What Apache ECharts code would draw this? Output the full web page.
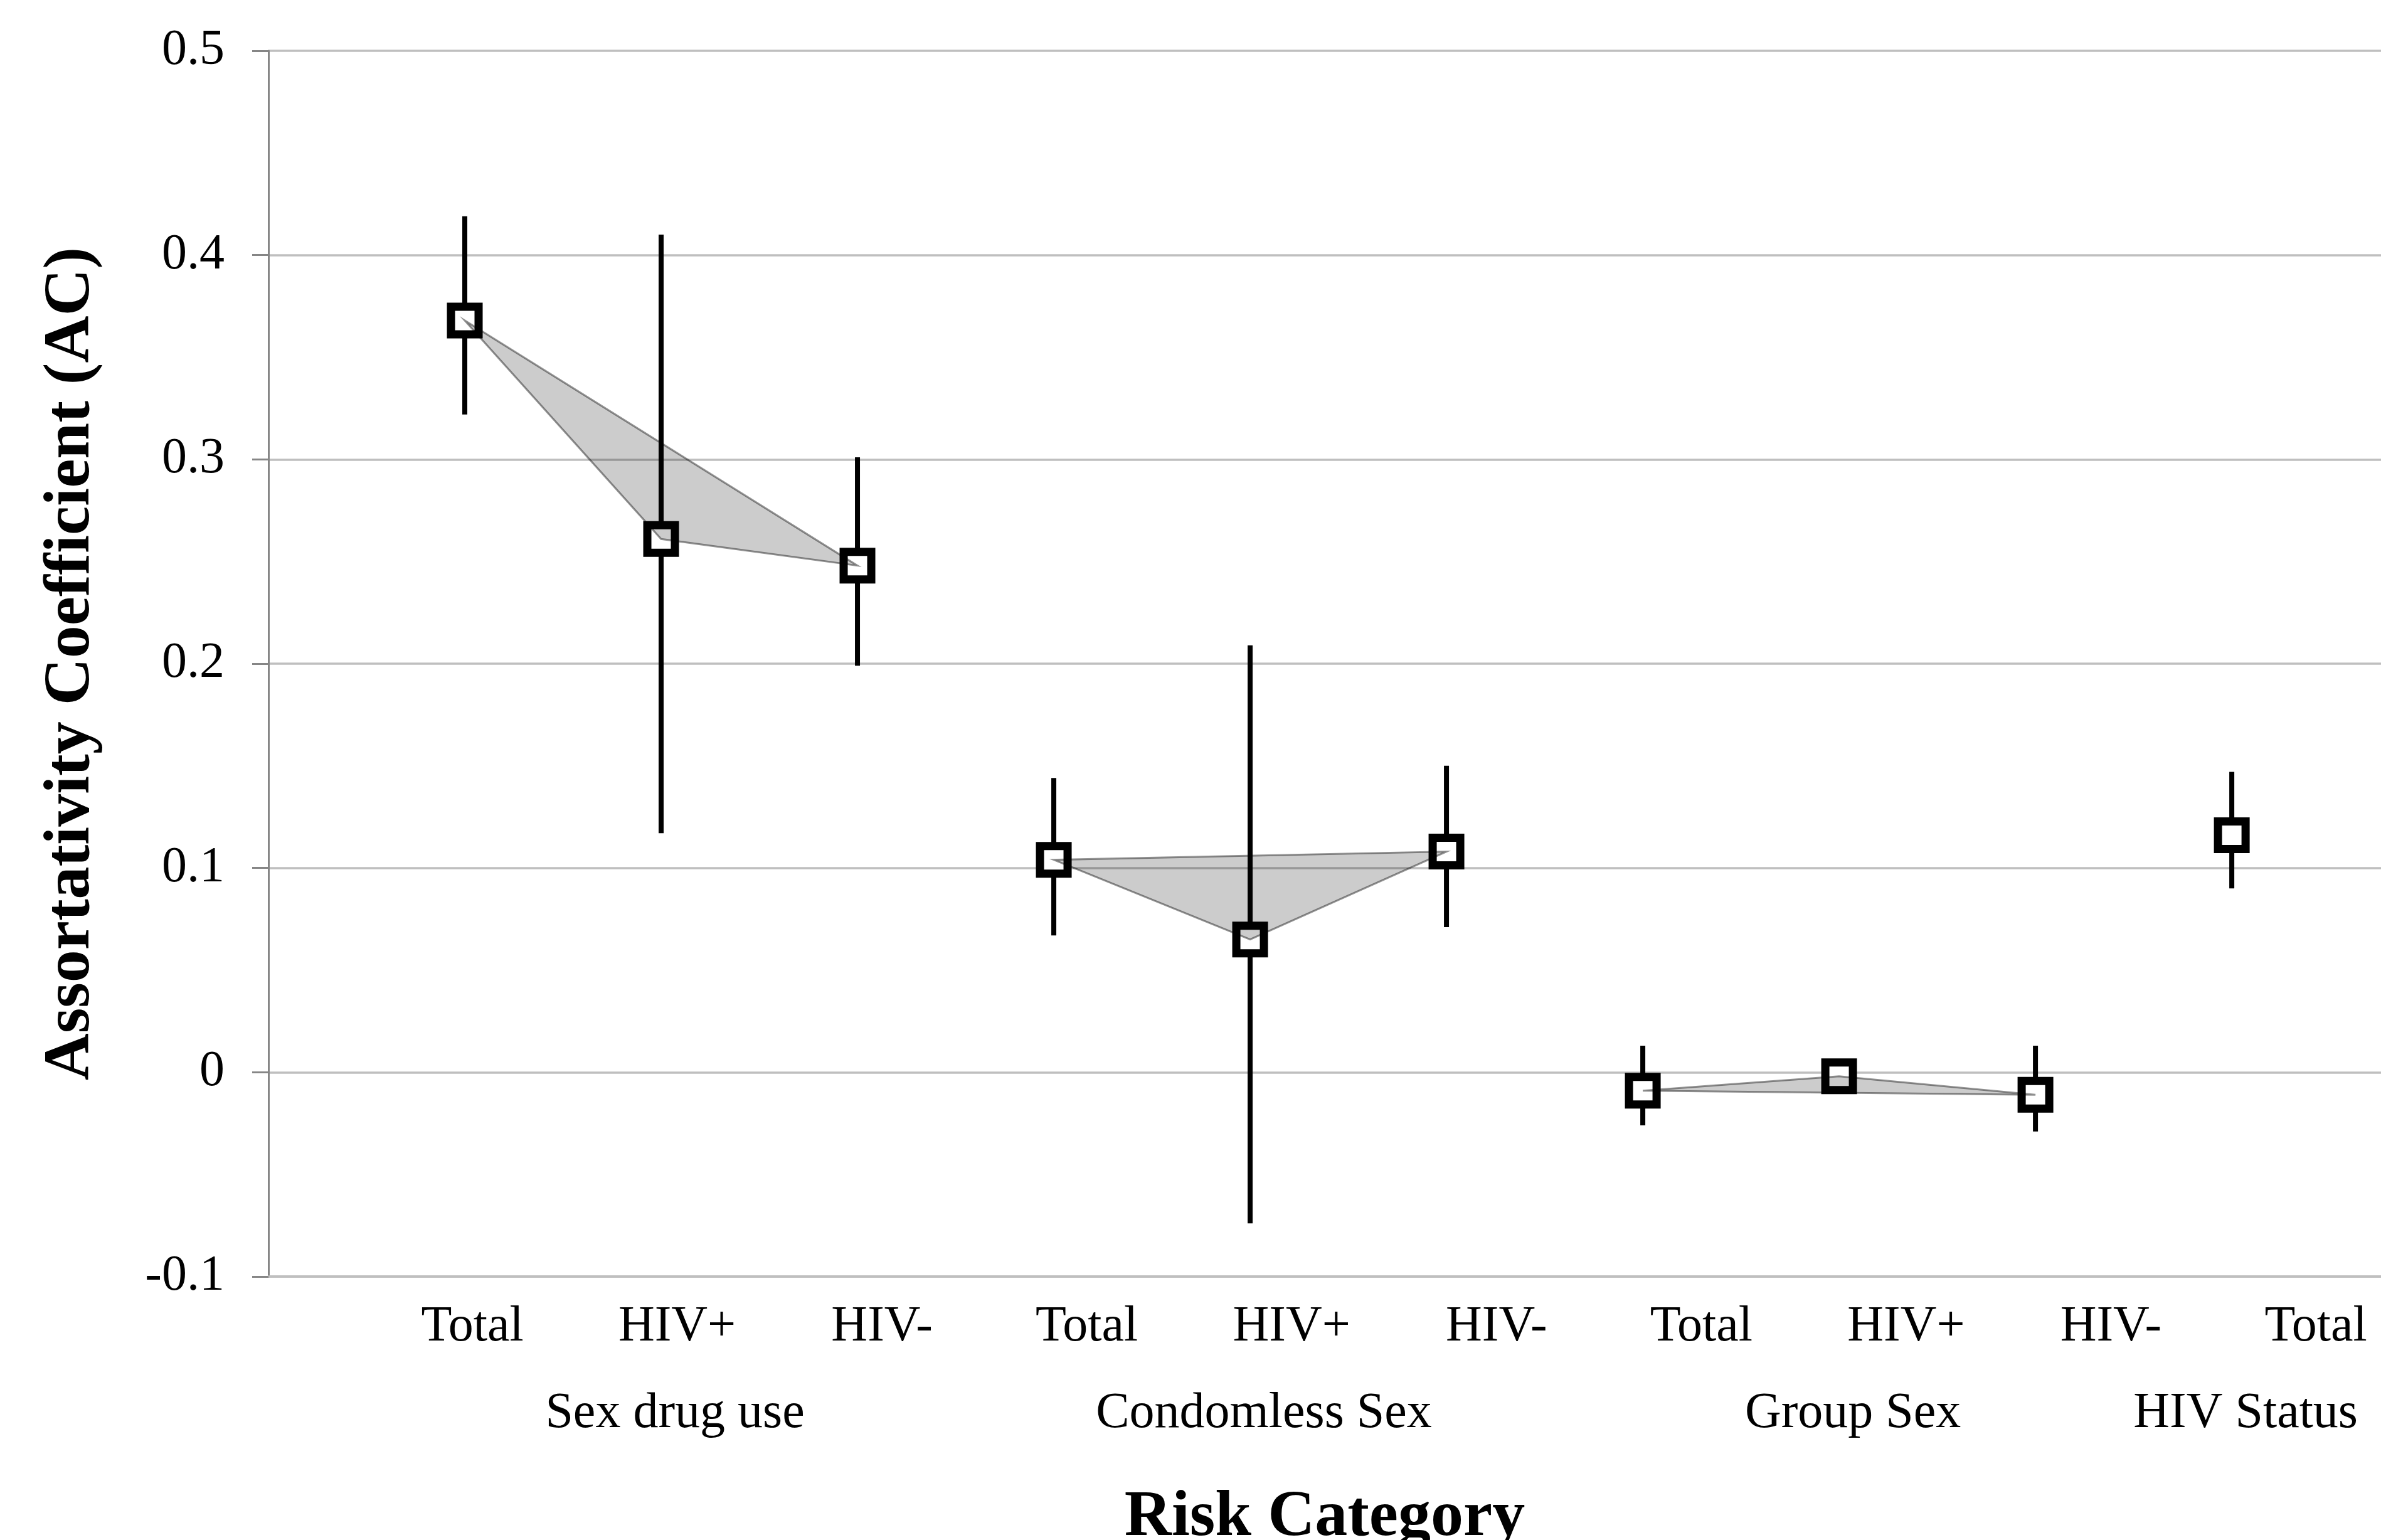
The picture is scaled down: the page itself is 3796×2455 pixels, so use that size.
<!DOCTYPE html>
<html>
<head>
<meta charset="utf-8">
<script src="https://cdn.jsdelivr.net/npm/echarts@6.0.0/dist/echarts.min.js"></script>
<style>
html,body{margin:0;padding:0;background:#fff;}
#chart{width:3796px;height:2455px;}
</style>
</head>
<body>
<div id="chart"></div>
<script>
// ---- data ----
const categories = ['Total','HIV+','HIV-','Total','HIV+','HIV-','Total','HIV+','HIV-','Total'];
const groupNames = ['Sex drug use','Condomless Sex','Group Sex','HIV Status'];
const groupOf    = [0,0,0,1,1,1,2,2,2,3];
const acValues   = [0.368, 0.261, 0.248, 0.104, 0.065, 0.108, -0.009, -0.002, -0.011, 0.116];
const ciLower    = [0.322, 0.117, 0.199, 0.067, -0.074, 0.071, -0.026, -0.006, -0.029, 0.090];
const ciUpper    = [0.419, 0.410, 0.301, 0.144, 0.209, 0.150, 0.013, 0.002, 0.013, 0.147];
const yMin = -0.1, yMax = 0.5, yStep = 0.1;
const xMax = 10.76;

// ---- derived ----
const xPos = categories.map((c, i) => i + 1);
const groupCenters = groupNames.map((g, gi) => {
  const xs = xPos.filter((x, i) => groupOf[i] === gi);
  return xs.reduce((a, b) => a + b, 0) / xs.length;
});

const serif = '"Liberation Serif", "Times New Roman", serif';
const chart = echarts.init(document.getElementById('chart'), null, {renderer: 'canvas'});

const option = {
  animation: false,
  backgroundColor: '#fff',
  grid: [
    {left: 428, right: 0, top: 81, bottom: 420, outerBoundsMode: 'none', containLabel: false},
    {left: 753, right: 104, top: 81, bottom: 420, outerBoundsMode: 'none', containLabel: false}
  ],
  xAxis: [
    {
      type: 'value', gridIndex: 0, min: 0, max: xMax, interval: 1,
      axisLine: {show: true, onZero: false, lineStyle: {color: '#bfbfbf', width: 3.5}},
      axisTick: {show: false}, axisLabel: {show: false}, splitLine: {show: false},
      name: 'Risk Category', nameLocation: 'middle', nameGap: 333,
      nameTextStyle: {fontFamily: serif, fontWeight: 'bold', fontSize: 104, color: '#000'}
    },
    {
      type: 'value', gridIndex: 0, position: 'bottom', min: 0, max: xMax, interval: 1,
      axisLine: {show: false, onZero: false}, axisTick: {show: false}, splitLine: {show: false},
      axisLabel: {
        show: true, margin: 179, fontFamily: serif, fontSize: 80, color: '#000',
        padding: [0, 0, 0, 44], showMinLabel: true, showMaxLabel: true, hideOverlap: false,
        formatter: v => {
          const gi = groupCenters.findIndex(c => Math.abs(c - v) < 1e-6);
          return gi >= 0 ? groupNames[gi] : '';
        }
      }
    },
    {
      type: 'category', gridIndex: 1, data: categories, boundaryGap: false,
      axisLine: {show: false, onZero: false}, axisTick: {show: false}, splitLine: {show: false},
      axisLabel: {interval: 0, margin: 41, fontFamily: serif, fontSize: 80, color: '#000', hideOverlap: false}
    }
  ],
  yAxis: [
    {
      type: 'value', gridIndex: 0, min: yMin, max: yMax, interval: yStep,
      axisLine: {show: true, onZero: false, lineStyle: {color: '#868686', width: 3}},
      axisTick: {show: true, inside: false, length: 26, lineStyle: {color: '#868686', width: 3}},
      axisLabel: {margin: 70, fontFamily: serif, fontSize: 80, color: '#000'},
      splitLine: {show: true, lineStyle: {color: '#bfbfbf', width: 3.5}},
      name: 'Assortativity Coefficient (AC)', nameLocation: 'middle', nameGap: 262,
      nameTextStyle: {fontFamily: serif, fontWeight: 'bold', fontSize: 104, color: '#000'}
    },
    {type: 'value', gridIndex: 1, min: yMin, max: yMax, show: false, splitLine: {show: false}}
  ],
  series: [
    {
      type: 'custom', name: 'CI', xAxisIndex: 0, yAxisIndex: 0, z: 2,
      data: xPos.map((x, i) => [x, ciLower[i], ciUpper[i]]),
      encode: {x: 0, y: [1, 2]},
      renderItem: (params, api) => {
        const p1 = api.coord([api.value(0), api.value(1)]);
        const p2 = api.coord([api.value(0), api.value(2)]);
        return {type: 'line', shape: {x1: p1[0], y1: p1[1], x2: p2[0], y2: p2[1]},
                style: {stroke: '#000', lineWidth: 8}};
      }
    },
    {
      type: 'scatter', name: 'AC', xAxisIndex: 0, yAxisIndex: 0, z: 3,
      data: xPos.map((x, i) => [x, acValues[i]]),
      symbol: 'rect', symbolSize: 44,
      itemStyle: {color: '#fff', borderColor: '#000', borderWidth: 13, opacity: 1},
      emphasis: {disabled: true}
    },
    {
      type: 'custom', name: 'groups', xAxisIndex: 0, yAxisIndex: 0, z: 4,
      data: groupNames.map((g, gi) => [groupCenters[gi], gi]),
      encode: {x: 0},
      renderItem: (params, api) => {
        const gi = params.dataIndex;
        const pts = [];
        xPos.forEach((x, i) => { if (groupOf[i] === gi) pts.push(api.coord([x, acValues[i]])); });
        if (pts.length < 3) return {type: 'group', children: []};
        return {type: 'polygon', shape: {points: pts},
                style: {fill: 'rgba(0,0,0,0.2)', stroke: 'rgba(0,0,0,0.42)', lineWidth: 3}};
      }
    }
  ]
};
chart.setOption(option);
</script>
</body>
</html>
